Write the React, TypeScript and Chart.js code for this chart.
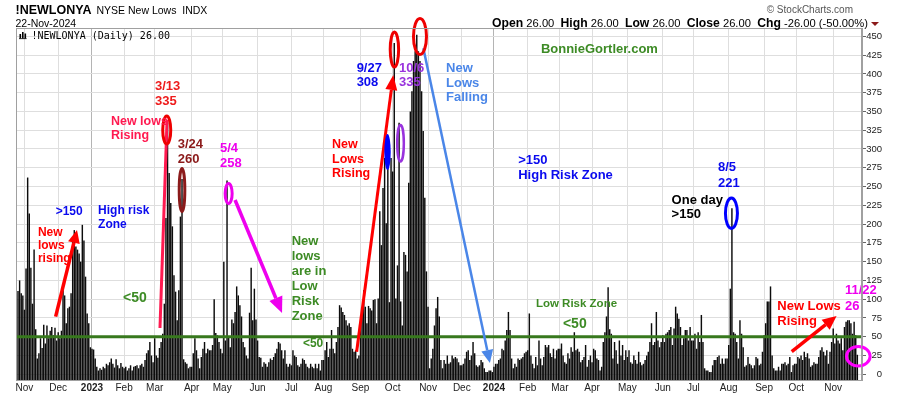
import React, { useEffect, useRef } from 'react';
import { Chart, registerables } from 'chart.js';

Chart.register(...registerables);

const SANS = '"Liberation Sans", Arial, Helvetica, sans-serif';
const MONO = '"DejaVu Sans Mono", "Liberation Mono", monospace';

// ---------------- data: NYSE New Lows (!NEWLONYA), daily, one array per month ----------------
const lowsOct2022 = [111, 125, 108, 105];
const lowsNov2022 = [86, 141, 262, 214, 142, 94, 166, 60, 21, 28, 48, 35, 66, 41, 65, 48, 58, 63, 52, 62, 45];
const lowsDec2022 = [56, 48, 58, 112, 105, 68, 88, 90, 108, 178, 192, 170, 166, 161, 150, 199, 178, 130, 81, 68, 36];
const lowsJan2023 = [34, 33, 21, 10, 5, 8, 6, 10, 8, 14, 12, 16, 21, 14, 9, 20, 12, 8, 15, 10];
const lowsFeb2023 = [8, 10, 5, 8, 12, 5, 10, 11, 12, 8, 12, 14, 10, 19, 28, 32, 43, 25, 16];
const lowsMar2023 = [48, 25, 22, 35, 43, 54, 94, 208, 335, 268, 228, 197, 132, 110, 72, 112, 210, 260, 20, 16, 14, 8, 10];
const lowsApr2023 = [10, 28, 48, 32, 21, 8, 23, 34, 43, 28, 34, 32, 32, 39, 100, 55, 52, 43, 34];
const lowsMay2023 = [28, 150, 45, 258, 50, 36, 73, 68, 83, 117, 105, 92, 77, 43, 36, 25, 21, 82, 142, 72, 114, 73];
const lowsJun2023 = [45, 23, 22, 10, 16, 14, 10, 16, 21, 19, 23, 28, 34, 43, 41, 32, 21, 32, 14, 10, 14];
const lowsJul2023 = [12, 32, 25, 23, 12, 10, 14, 21, 19, 14, 10, 8, 14, 10, 8, 14, 8, 14, 5, 19];
const lowsAug2023 = [19, 32, 43, 23, 34, 59, 34, 28, 43, 63, 92, 89, 83, 79, 72, 65, 68, 63, 34, 30, 32, 21, 25];
const lowsSep2023 = [68, 85, 112, 90, 68, 91, 88, 85, 99, 100, 68, 101, 217, 172, 248, 288, 201, 308, 96, 288];
const lowsOct2023 = [270, 441, 101, 145, 335, 97, 65, 163, 159, 137, 255, 350, 377, 417, 430, 452, 430, 417, 377, 324, 235, 137];
const lowsNov2023 = [90, 8, 21, 34, 65, 88, 103, 77, 19, 8, 19, 14, 25, 14, 16, 25, 21, 23, 21, 16, 12];
const lowsDec2023 = [12, 14, 21, 30, 32, 19, 25, 43, 28, 12, 10, 12, 19, 16, 8, 3, 3, 5, 5, 3];
const lowsJan2024 = [10, 14, 14, 19, 21, 34, 32, 45, 59, 83, 59, 21, 8, 14, 10, 21, 19, 21, 23, 28, 30];
const lowsFeb2024 = [32, 81, 25, 14, 8, 23, 12, 45, 21, 12, 23, 39, 36, 39, 28, 23, 34, 21, 32, 34];
const lowsMar2024 = [34, 41, 25, 16, 14, 28, 21, 36, 30, 56, 32, 34, 30, 16, 19, 23, 39, 10, 19, 25];
const lowsApr2024 = [16, 34, 32, 21, 19, 5, 10, 43, 56, 77, 116, 60, 54, 21, 43, 32, 14, 45, 25, 39, 19, 32];
const lowsMay2024 = [23, 32, 16, 14, 25, 19, 14, 30, 16, 12, 14, 19, 25, 30, 43, 68, 39, 43, 83, 45, 36, 43];
const lowsJun2024 = [52, 43, 54, 56, 59, 63, 39, 61, 90, 81, 74, 63, 39, 48, 59, 59, 45, 63, 45];
const lowsJul2024 = [45, 54, 34, 56, 43, 79, 43, 8, 5, 5, 3, 3, 12, 19, 19, 23, 25, 14, 21, 14, 21, 21];
const lowsAug2024 = [39, 114, 221, 56, 54, 43, 21, 72, 54, 36, 10, 12, 23, 14, 12, 8, 12, 23, 21, 12, 14, 30];
const lowsSep2024 = [52, 68, 97, 97, 117, 25, 8, 5, 5, 10, 5, 14, 14, 16, 12, 14, 23, 3, 12, 14];
const lowsOct2024 = [14, 23, 21, 25, 19, 30, 23, 28, 21, 10, 12, 16, 14, 14, 23, 32, 36, 30, 25, 32, 14, 30, 43];
const lowsNov2024 = [61, 41, 54, 45, 41, 48, 32, 63, 70, 72, 72, 68, 54, 70, 52, 26];

// month tick labels (first entry is the partial October 2022, unlabelled)
const monthTickLabels = ['', 'Nov', 'Dec', '2023', 'Feb', 'Mar', 'Apr', 'May', 'Jun', 'Jul', 'Aug', 'Sep', 'Oct', 'Nov',
  'Dec', '2024', 'Feb', 'Mar', 'Apr', 'May', 'Jun', 'Jul', 'Aug', 'Sep', 'Oct', 'Nov'];
const yTickValues = [0, 25, 50, 75, 100, 125, 150, 175, 200, 225, 250, 275, 300, 325, 350, 375, 400, 425, 450];
const riskLevel = 50;

const months = [lowsOct2022, lowsNov2022, lowsDec2022, lowsJan2023, lowsFeb2023, lowsMar2023, lowsApr2023, lowsMay2023,
  lowsJun2023, lowsJul2023, lowsAug2023, lowsSep2023, lowsOct2023, lowsNov2023, lowsDec2023, lowsJan2024, lowsFeb2024,
  lowsMar2024, lowsApr2024, lowsMay2024, lowsJun2024, lowsJul2024, lowsAug2024, lowsSep2024, lowsOct2024, lowsNov2024];

const values: number[] = months.flat();
const xTicks: { value: number; label: string }[] = [];
{
  let start = 0;
  months.forEach((m, k) => {
    if (monthTickLabels[k]) xTicks.push({ value: start, label: monthTickLabels[k] });
    start += m.length;
  });
}
const tickLabelAt = (v: number) => {
  const t = xTicks.find((q) => q.value === v);
  return t ? t.label : '';
};
const isYear = (v: number) => /^\d{4}$/.test(tickLabelAt(v));

const Y_MIN = -7.6;
const Y_MAX = 461.1;
const X_MIN = -1.25;
const X_MAX = 524.9;

// ---------------- annotation styles ----------------
const RED = '#ff0000';
const RED2 = '#ee1c1c';
const PINKRED = '#ff1a50';
const DARKRED = '#8b1a1a';
const MAGENTA = '#ee00ee';
const BLUE = '#0a0aee';
const PURPLE = '#9933dd';
const GREEN = '#3d8b25';
const LIGHTBLUE = '#4a86e8';
const LINEGREEN = '#37781d';

type Note = { lines: string[]; i: number; v: number; color: string; size: number; lh?: number };
const noteTexts: Note[] = [
  { lines: ['New', 'lows', 'rising'], i: 12.4, v: 189, color: RED, size: 12, lh: 13.3 },
  { lines: ['>150'], i: 23.4, v: 216.5, color: BLUE, size: 12 },
  { lines: ['High risk', 'Zone'], i: 49.8, v: 217.4, color: BLUE, size: 12, lh: 14 },
  { lines: ['3/13', '335'], i: 85.2, v: 383, color: RED2, size: 13, lh: 14.5 },
  { lines: ['New lows', 'Rising'], i: 57.8, v: 336.3, color: PINKRED, size: 12.5, lh: 13.5 },
  { lines: ['3/24', '260'], i: 99.3, v: 306, color: DARKRED, size: 13, lh: 15 },
  { lines: ['5/4', '258'], i: 125.6, v: 301.3, color: MAGENTA, size: 13, lh: 15 },
  { lines: ['New', 'lows', 'are in', 'Low', 'Risk', 'Zone'], i: 170.2, v: 176.6, color: GREEN, size: 13, lh: 15 },
  { lines: ['<50'], i: 65.3, v: 101.6, color: GREEN, size: 14 },
  { lines: ['<50'], i: 177.2, v: 40.3, color: GREEN, size: 12 },
  { lines: ['<50'], i: 338.9, v: 67.1, color: GREEN, size: 14 },
  { lines: ['Low Risk Zone'], i: 322.1, v: 93.6, color: GREEN, size: 11.5 },
  { lines: ['New', 'Lows', 'Rising'], i: 195.3, v: 305.3, color: RED, size: 12.5, lh: 14.5 },
  { lines: ['9/27', '308'], i: 210.6, v: 407.5, color: BLUE, size: 13, lh: 14.5 },
  { lines: ['10/6', '335'], i: 236.9, v: 407.9, color: PURPLE, size: 13, lh: 14.5 },
  { lines: ['New', 'Lows', 'Falling'], i: 266.2, v: 406.9, color: LIGHTBLUE, size: 13, lh: 14.3 },
  { lines: ['>150', 'High Risk Zone'], i: 311.1, v: 285.4, color: BLUE, size: 13, lh: 15.7 },
  { lines: ['BonnieGortler.com'], i: 325.2, v: 432.8, color: GREEN, size: 13 },
  { lines: ['One day', '>150'], i: 406.5, v: 232.1, color: '#000000', size: 13, lh: 14.3 },
  { lines: ['8/5', '221'], i: 435.3, v: 275.6, color: BLUE, size: 13, lh: 16 },
  { lines: ['11/22'], i: 514.3, v: 111.3, color: MAGENTA, size: 13 },
  { lines: ['New Lows', 'Rising'], i: 472.2, v: 90.9, color: RED, size: 13, lh: 15.7 },
  { lines: ['26'], i: 514.3, v: 90.9, color: MAGENTA, size: 13 },
];

type Ell = { i: number; v: number; rx: number; ry: number; color: string; lw: number; fill?: boolean };
const noteEllipses: Ell[] = [
  { i: 92.5, v: 325.3, rx: 4, ry: 14, color: '#ee0000', lw: 3 },
  { i: 102, v: 245.4, rx: 2.8, ry: 21.5, color: DARKRED, lw: 3 },
  { i: 131, v: 240.7, rx: 3.5, ry: 10, color: MAGENTA, lw: 3 },
  { i: 234.1, v: 432.5, rx: 4.2, ry: 17.5, color: '#ee0000', lw: 3 },
  { i: 250, v: 449.8, rx: 6.5, ry: 18, color: '#ee0000', lw: 3 },
  { i: 229.8, v: 296, rx: 3.2, ry: 18, color: '#0000ff', lw: 1, fill: true },
  { i: 237.9, v: 307.6, rx: 3.3, ry: 18.3, color: PURPLE, lw: 2.5 },
  { i: 443.7, v: 214.4, rx: 6, ry: 15.2, color: '#0000ff', lw: 3 },
  { i: 522.6, v: 24, rx: 11.8, ry: 9.8, color: '#ff00ff', lw: 3 },
];

type Arr = { i1: number; v1: number; i2: number; v2: number; color: string; lw: number; head: number; half: number };
const noteArrows: Arr[] = [
  { i1: 23.4, v1: 76.7, i2: 36.7, v2: 192.1, color: RED, lw: 3.5, head: 13, half: 6 },
  { i1: 88.3, v1: 61.7, i2: 92.7, v2: 338.8, color: PINKRED, lw: 3, head: 0, half: 0 },
  { i1: 135, v1: 232.1, i2: 164.2, v2: 81.6, color: MAGENTA, lw: 3.5, head: 16, half: 7 },
  { i1: 210.6, v1: 30.1, i2: 233.4, v2: 398.5, color: RED, lw: 3, head: 15, half: 6 },
  { i1: 252.1, v1: 434.1, i2: 293.5, v2: 15.1, color: LIGHTBLUE, lw: 2.5, head: 13, half: 6 },
  { i1: 481.2, v1: 30.1, i2: 509.1, v2: 77.6, color: RED, lw: 3.5, head: 14, half: 6.5 },
];

function drawArrow(ctx: CanvasRenderingContext2D, x1: number, y1: number, x2: number, y2: number, a: Arr) {
  const ang = Math.atan2(y2 - y1, x2 - x1);
  const bx = x2 - a.head * Math.cos(ang);
  const by = y2 - a.head * Math.sin(ang);
  ctx.strokeStyle = a.color;
  ctx.lineWidth = a.lw;
  ctx.lineCap = 'butt';
  ctx.beginPath();
  ctx.moveTo(x1, y1);
  ctx.lineTo(a.head > 0 ? bx : x2, a.head > 0 ? by : y2);
  ctx.stroke();
  if (a.head > 0) {
    ctx.fillStyle = a.color;
    ctx.beginPath();
    ctx.moveTo(x2, y2);
    ctx.lineTo(bx + a.half * Math.sin(ang), by - a.half * Math.cos(ang));
    ctx.lineTo(bx - a.half * Math.sin(ang), by + a.half * Math.cos(ang));
    ctx.closePath();
    ctx.fill();
  }
}

const notesPlugin = {
  id: 'notes',
  afterDatasetsDraw(chart: any) {
    const { ctx, chartArea: a, scales } = chart;
    const px = (i: number) => scales.x.getPixelForValue(i);
    const py = (v: number) => scales.y.getPixelForValue(v);
    ctx.save();
    // 50 level line
    ctx.strokeStyle = LINEGREEN;
    ctx.lineWidth = 3;
    ctx.beginPath();
    ctx.moveTo(a.left, py(riskLevel));
    ctx.lineTo(a.right, py(riskLevel));
    ctx.stroke();

    noteArrows.forEach((ar) => drawArrow(ctx, px(ar.i1), py(ar.v1), px(ar.i2), py(ar.v2), ar));

    noteEllipses.forEach((e) => {
      ctx.beginPath();
      ctx.ellipse(px(e.i), py(e.v), e.rx, e.ry, 0, 0, Math.PI * 2);
      if (e.fill) {
        ctx.fillStyle = e.color;
        ctx.fill();
      } else {
        ctx.strokeStyle = e.color;
        ctx.lineWidth = e.lw;
        ctx.stroke();
      }
    });

    ctx.textAlign = 'left';
    ctx.textBaseline = 'middle';
    noteTexts.forEach((t) => {
      ctx.font = `bold ${t.size}px ${SANS}`;
      ctx.fillStyle = t.color;
      t.lines.forEach((ln, k) => ctx.fillText(ln, px(t.i), py(t.v) + k * (t.lh || 0)));
    });
    ctx.restore();
  },
  afterDraw(chart: any) {
    const { ctx, chartArea: a } = chart;
    ctx.save();
    // plot frame
    ctx.strokeStyle = '#a0a0a0';
    ctx.lineWidth = 1;
    ctx.strokeRect(a.left + 0.5, a.top + 0.5, a.right - a.left - 1, a.bottom - a.top);

    ctx.textBaseline = 'alphabetic';
    ctx.textAlign = 'left';
    ctx.fillStyle = '#000';
    ctx.font = `bold 12.5px ${SANS}`;
    ctx.fillText('!NEWLONYA', 15.5, 14);
    ctx.font = `10.5px ${SANS}`;
    ctx.fillText('NYSE New Lows  INDX', 96.5, 13.5);
    ctx.fillText('22-Nov-2024', 15.5, 26.5);

    ctx.textAlign = 'right';
    ctx.fillStyle = '#555';
    ctx.font = `10px ${SANS}`;
    ctx.fillText('\u00A9 StockCharts.com', 853, 13.3);

    // OHLC line
    const segs: [string, boolean][] = [
      ['Open', true], [' 26.00  ', false], ['High', true], [' 26.00  ', false], ['Low', true], [' 26.00  ', false],
      ['Close', true], [' 26.00  ', false], ['Chg', true], [' -26.00 (-50.00%) ', false],
    ];
    const fontFor = (b: boolean) => (b ? `bold 12.2px ${SANS}` : `11.2px ${SANS}`);
    let total = 0;
    segs.forEach(([s, b]) => {
      ctx.font = fontFor(b);
      total += ctx.measureText(s).width;
    });
    const triW = 8;
    let x = 871 - total;
    ctx.textAlign = 'left';
    ctx.fillStyle = '#000';
    segs.forEach(([s, b]) => {
      ctx.font = fontFor(b);
      ctx.fillText(s, x, 26.5);
      x += ctx.measureText(s).width;
    });
    ctx.fillStyle = '#8b1a1a';
    ctx.beginPath();
    ctx.moveTo(x, 22);
    ctx.lineTo(x + triW, 22);
    ctx.lineTo(x + triW / 2, 26);
    ctx.closePath();
    ctx.fill();

    // legend inside the plot
    ctx.fillStyle = '#000';
    ctx.fillRect(19.5, 34, 1.6, 4.5);
    ctx.fillRect(22, 32, 1.6, 6.5);
    ctx.fillRect(24.5, 33.5, 1.6, 5);
    ctx.fillRect(19, 38.3, 7.6, 0.8);
    ctx.font = `10px ${MONO}`;
    ctx.fillText('!NEWLONYA (Daily) 26.00', 31.5, 38.5);
    ctx.restore();
  },
};

export default function App() {
  const ref = useRef<HTMLCanvasElement>(null);
  useEffect(() => {
    const chart = new Chart(ref.current as HTMLCanvasElement, {
      type: 'bar',
      data: {
        labels: values.map((_, i) => i),
        datasets: [
          {
            data: values,
            backgroundColor: '#0c0c0c',
            borderWidth: 0,
            barPercentage: 0.9,
            categoryPercentage: 1,
            base: Y_MIN,
          } as any,
        ],
      },
      options: {
        animation: false,
        responsive: false,
        events: [],
        layout: { padding: { left: 16, top: 28, right: 18, bottom: 0 } },
        plugins: { legend: { display: false }, tooltip: { enabled: false }, title: { display: false } },
        scales: {
          x: {
            type: 'linear',
            min: X_MIN,
            max: X_MAX,
            offset: false,
            afterBuildTicks: (s: any) => {
              s.ticks = xTicks.map((t) => ({ value: t.value }));
            },
            afterFit: (s: any) => {
              s.height = 16;
            },
            ticks: {
              autoSkip: false,
              maxRotation: 0,
              minRotation: 0,
              padding: 2,
              color: '#222',
              callback: (v: any) => tickLabelAt(Number(v)),
              font: (c: any) => ({ family: SANS, size: 10, weight: c.tick && isYear(c.tick.value) ? 'bold' : 'normal' }),
            },
            grid: {
              offset: false,
              drawTicks: false,
              color: (c: any) => (c.tick && isYear(c.tick.value) ? '#b4b4b4' : '#dedede'),
            },
            border: { display: false },
          } as any,
          y: {
            position: 'right',
            min: Y_MIN,
            max: Y_MAX,
            afterBuildTicks: (s: any) => {
              s.ticks = yTickValues.map((v) => ({ value: v }));
            },
            afterFit: (s: any) => {
              s.width = 20;
            },
            ticks: {
              crossAlign: 'far',
              padding: 1,
              color: '#222',
              font: { family: SANS, size: 9.5 },
              callback: (v: any) => String(v),
            },
            grid: { color: '#dedede', tickLength: 4, tickColor: '#666', drawTicks: true },
            border: { display: true, color: '#a0a0a0' },
          } as any,
        },
      },
      plugins: [notesPlugin],
    });
    return () => chart.destroy();
  }, []);
  return (
    <div style={{ position: 'fixed', left: 0, top: 0, width: 900, height: 396, background: '#fff' }}>
      <canvas ref={ref} width={900} height={396} style={{ display: 'block', width: 900, height: 396 }} />
    </div>
  );
}
